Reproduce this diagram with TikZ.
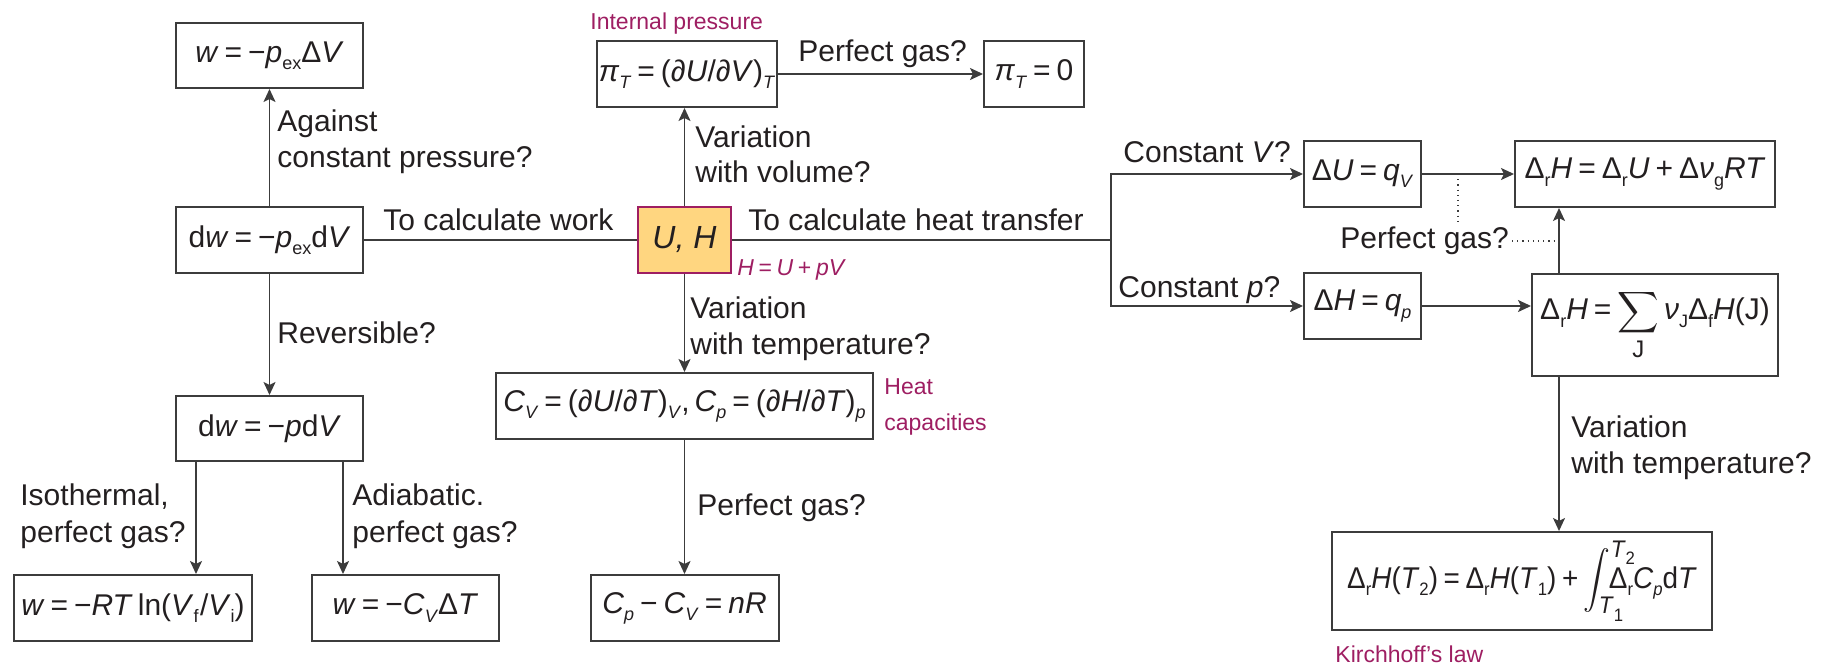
\documentclass[tikz,border=0pt]{standalone}
\usepackage{exscale}
\usepackage{fontspec}
\setmainfont{Liberation Sans}
\usetikzlibrary{arrows.meta}
\definecolor{txt}{RGB}{35,31,32}
\definecolor{linec}{RGB}{60,60,60}
\definecolor{mag}{RGB}{158,30,98}
\definecolor{uhfill}{RGB}{255,214,128}
\newcommand\vi[1]{\textit{#1}}
\newcommand\lo[1]{\raisebox{-3.6pt}{\fontsize{9}{9}\selectfont #1}}
\newcommand\eq{\hspace{0.2em}=\hspace{0.2em}}
\newcommand\pl{\hspace{0.2em}+\hspace{0.2em}}
\begin{document}
\begin{tikzpicture}[x=0.5pt,y=-0.5pt,
  every node/.style={text=txt},
  box/.style 2 args={draw=linec, line width=1pt, inner sep=0pt,
    minimum width=#1*0.5pt, minimum height=#2*0.5pt, font=\fontsize{15}{18}\selectfont},
  lab/.style={anchor=base west, inner sep=0pt, font=\fontsize{15}{18}\selectfont},
  mlab/.style={anchor=base west, inner sep=0pt, text=mag, font=\fontsize{11.5}{14}\selectfont},
  arr/.style={draw=linec, line width=0.9pt, -{Stealth[length=6.5pt,width=6pt,inset=1.5pt]}},
  conn/.style={draw=linec, line width=0.9pt},
  dots/.style={draw=linec, line width=0.6pt, dotted}
]
\useasboundingbox (0,0) rectangle (1829,668);

% ---- left column
\node[box={187}{65}] (wA) at (269.5,55.5) {\vi{w}\eq−\vi{p}\lo{ex}Δ\vi{V}};
\node[box={187}{66}] (dwex) at (269.5,240) {d\vi{w}\eq−\vi{p}\lo{ex}d\vi{V}};
\node[box={187}{65}] (dwp) at (269.5,428.5) {d\vi{w}\eq−\vi{p}d\vi{V}};
\node[box={238}{66}] (wiso) at (133,608) {\vi{w}\eq−\vi{RT}\,ln(\vi{V}\lo{f}\hspace{0.05em}/\vi{V}\lo{i})};
\node[box={187}{66}] (wad) at (405.5,608) {\vi{w}\eq−\vi{C}\lo{\vi{V}}Δ\vi{T}};

% ---- middle column
\node[box={93}{65}, fill=uhfill, draw=mag] (UH) at (684.5,240) {\fontsize{16}{18}\selectfont\vi{U, H}};
\node[box={180}{66}] (piT) at (687,74) {\vi{π}\lo{\vi{T}}\eq(∂\vi{U}/∂\vi{V})\lo{\vi{T}}};
\node[box={100}{66}] (pi0) at (1034,74) {\vi{π}\lo{\vi{T}}\eq0};
\node[box={377}{66}] (CV) at (684.5,406) {\vi{C}\lo{\vi{V}}\eq(∂\vi{U}/∂\vi{T})\lo{\vi{V}},\,\vi{C}\lo{\vi{p}}\eq(∂\vi{H}/∂\vi{T})\lo{\vi{p}}};
\node[box={188}{66}] (Cp) at (684.5,608) {\vi{C}\lo{\vi{p}}\hspace{0.2em}−\hspace{0.2em}\vi{C}\lo{\vi{V}}\eq\vi{nR}};

% ---- right part
\node[box={117}{66}] (dU) at (1362.5,174) {Δ\vi{U}\eq\vi{q}\lo{\vi{V}}};
\node[box={117}{66}] (dH) at (1362.5,306) {Δ\vi{H}\eq\vi{q}\lo{\vi{p}}};
\node[box={260}{66}] (rH1) at (1645,174) {Δ\lo{r}\vi{H}\eq Δ\lo{r}\vi{U}\pl Δ\vi{ν}\lo{g}\vi{RT}};
\node[box={246}{102}] (rH2) at (1655,325) {Δ\lo{r}\vi{H}\eq$\displaystyle\sum_{\mbox{\fontsize{12}{12}\selectfont J}}$\,\vi{ν}\lo{J}Δ\lo{f}\vi{H}(J)};
\node[box={380}{98}] (K) at (1522,581) {\scalebox{0.93}[1]{Δ\lo{r}\vi{H}(\vi{T}\lo{2})\eq Δ\lo{r}\vi{H}(\vi{T}\lo{1})\pl$\displaystyle\int_{\rlap{\fontsize{12}{12}\selectfont\vi{T}\lo{1}}}^{\rlap{\fontsize{12}{12}\selectfont\vi{T}\lo{2}}}$\hspace{-0.1em}Δ\lo{r}\vi{C}\lo{\vi{p}}d\vi{T}}};

% ---- connectors, left
\draw[arr] (dwex.north) -- (wA.south);
\draw[arr] (dwex.south) -- (dwp.north);
\draw[arr] ([xshift=-36.75pt]dwp.south) -- ([xshift=-36.75pt]dwp.south |- wiso.north);
\draw[arr] ([xshift=36.75pt]dwp.south) -- ([xshift=36.75pt]dwp.south |- wad.north);
\draw[conn] (dwex.east) -- (UH.west);

% ---- connectors, middle
\draw[arr] (UH.north) -- (UH.north |- piT.south);
\draw[arr] (piT.east) -- (pi0.west);
\draw[arr] (UH.south) -- (UH.south |- CV.north);
\draw[arr] (UH.south |- CV.south) -- (UH.south |- Cp.north);

% ---- connectors, right
\coordinate (br) at (1111,240);
\draw[conn] (UH.east) -- (br);
\draw[arr] (br) |- (dU.west);
\draw[arr] (br) |- (dH.west);
\draw[arr] (dU.east) -- (rH1.west);
\draw[arr] (dH.east) -- (dH.east -| rH2.west);
\coordinate (up) at ([xshift=-48pt]rH2.north);
\coordinate (dn) at ([xshift=-48pt]rH2.south);
\draw[arr] (up) -- (up |- rH1.south);
\draw[arr] (dn) -- (dn |- K.north);
\coordinate (dv) at (1458,223);
\draw[dots] (dv |- dU.east) -- (dv);
\coordinate (dh) at (1512,241);
\draw[dots] (dh) -- (dh -| up);

% ---- labels
\node[lab] (l1) at (277,132) {Against};
\node[lab] (l2) at (277,168) {constant pressure?};
\node[lab] (l3) at (277,343) {Reversible?};
\node[lab] (l4) at (20,505) {Isothermal,};
\node[lab] (l5) at (20,542) {perfect gas?};
\node[lab] (l6) at (352,505) {Adiabatic.};
\node[lab] (l7) at (352,542) {perfect gas?};
\node[lab] (l8) at (383,230) {To calculate work};
\node[mlab] (l9) at (590,30) {Internal pressure};
\node[lab] (l10) at (798,62) {Perfect gas?};
\node[lab] (l11) at (695,148) {Variation};
\node[lab] (l12) at (695,183) {with volume?};
\node[lab] (l13) at (748,230) {To calculate heat transfer};
\node[mlab] (l14) at (737,275) {\vi{H}\eq\vi{U}\pl\vi{pV}};
\node[lab] (l15) at (690,318) {Variation};
\node[lab] (l16) at (690,354) {with temperature?};
\node[mlab] (l17) at (884,394) {Heat};
\node[mlab] (l18) at (884,430) {capacities};
\node[lab] (l19) at (697,515) {Perfect gas?};
\node[lab] (l20) at (1123,163) {Constant \vi{V}?};
\node[lab] (l21) at (1118,297) {Constant \vi{p}?};
\node[lab] (l22) at (1340,249) {Perfect gas?};
\node[lab] (l23) at (1571,437) {Variation};
\node[lab] (l24) at (1571,473) {with temperature?};
\node[mlab] (l25) at (1335,662) {Kirchhoff’s law};
\end{tikzpicture}
\end{document}
